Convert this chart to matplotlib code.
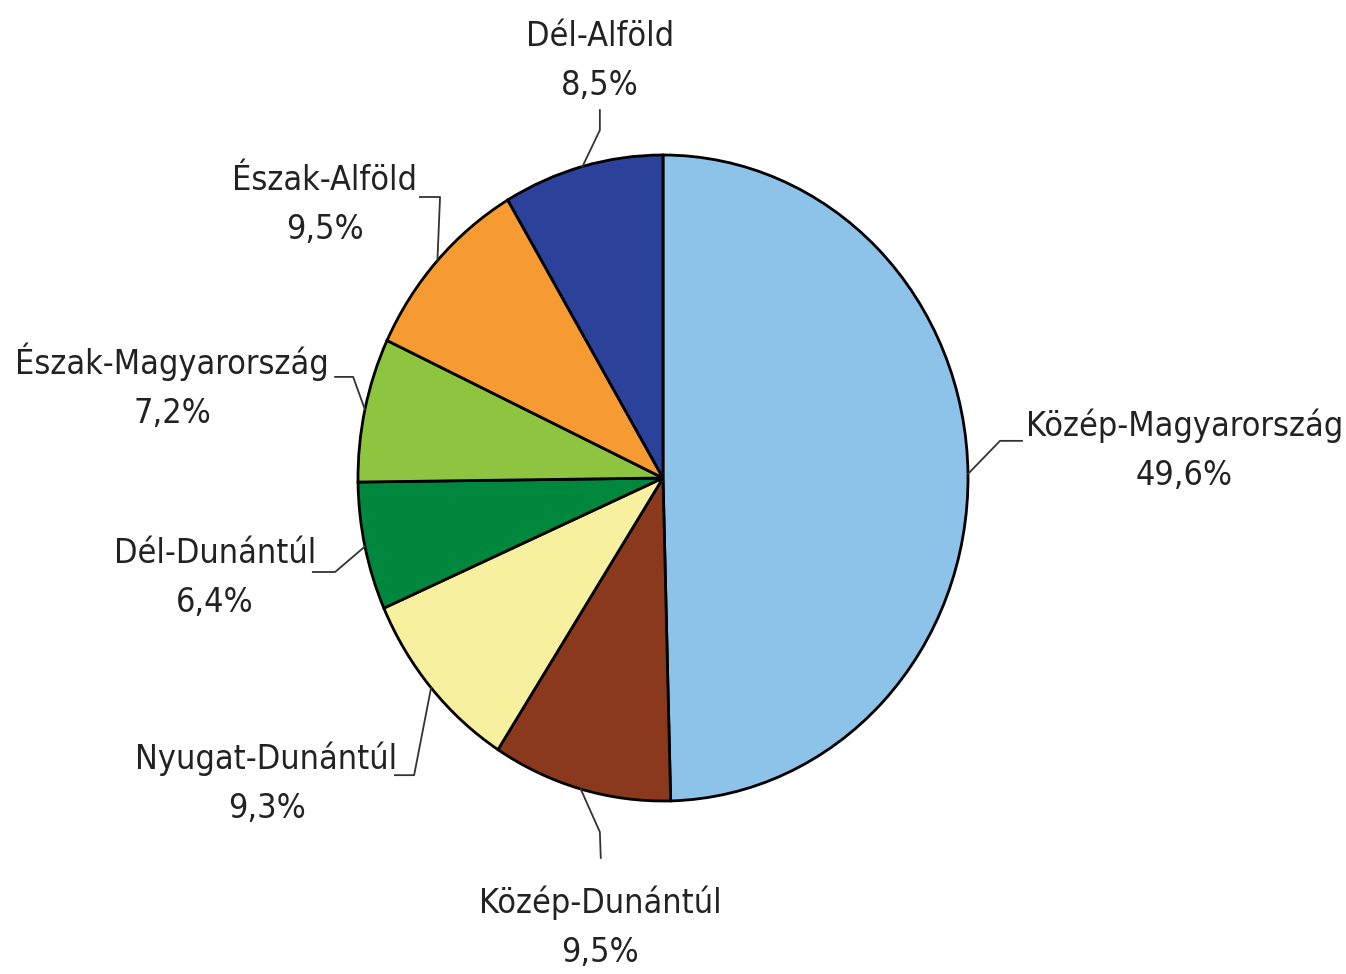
import numpy as np
import matplotlib.pyplot as plt

# regional shares (%), clockwise from 12 o'clock
regions = ['Közép-Magyarország', 'Közép-Dunántúl', 'Nyugat-Dunántúl', 'Dél-Dunántúl',
           'Észak-Magyarország', 'Észak-Alföld', 'Dél-Alföld']
shares = [49.6, 9.5, 9.3, 6.4, 7.2, 9.5, 8.5]
colors = ['#8dc3e9', '#8b391d', '#f6f09f', '#00873e', '#8dc540', '#f59b32', '#2c4199']

# label block centres and leader elbows (pie units, radius = 1)
label_pos = [(1.71, 0.085), (-0.207, -1.39), (-1.30, -0.945), (-1.47, -0.31),
             (-1.61, 0.285), (-1.11, 0.845), (-0.207, 1.29)]
elbows = [[(1.105, 0.115), (1.177, 0.115)],
          [(-0.207, -1.096), (-0.204, -1.176)],
          [(-0.816, -0.920), (-0.879, -0.920)],
          [(-1.075, -0.291), (-1.148, -0.291)],
          [(-1.016, 0.313), (-1.075, 0.313)],
          [(-0.731, 0.870), (-0.797, 0.870)],
          [(-0.207, 1.077), (-0.207, 1.139)]]

plt.rcParams['font.family'] = ['DejaVu Sans']
plt.rcParams['font.stretch'] = 'condensed'

fig = plt.figure(figsize=(13.46, 9.74), dpi=100)
ax = fig.add_axes([0, 0, 1, 1])
wedges, _ = ax.pie(shares, colors=colors, startangle=90, counterclock=False,
                   wedgeprops=dict(edgecolor='black', linewidth=2.0))
ax.set_aspect('auto')
ax.set_xlim(-663 / 305, (1346 - 663) / 305)
ax.set_ylim(-496 / 323, 478 / 323)
ax.axis('off')

for w, name, val, pos, elb in zip(wedges, regions, shares, label_pos, elbows):
    mid = np.deg2rad((w.theta1 + w.theta2) / 2)
    pts = [(np.cos(mid), np.sin(mid))] + elb
    xs, ys = zip(*pts)
    ax.plot(xs, ys, color='#333333', lw=1.3)
    txt = '%s\n%s%%' % (name, ('%.1f' % val).replace('.', ','))
    ax.text(pos[0], pos[1], txt, ha='center', va='center', fontsize=24.5,
            fontstretch='condensed', color='#222222', linespacing=1.62)

fig.savefig('out.png', dpi=100)
